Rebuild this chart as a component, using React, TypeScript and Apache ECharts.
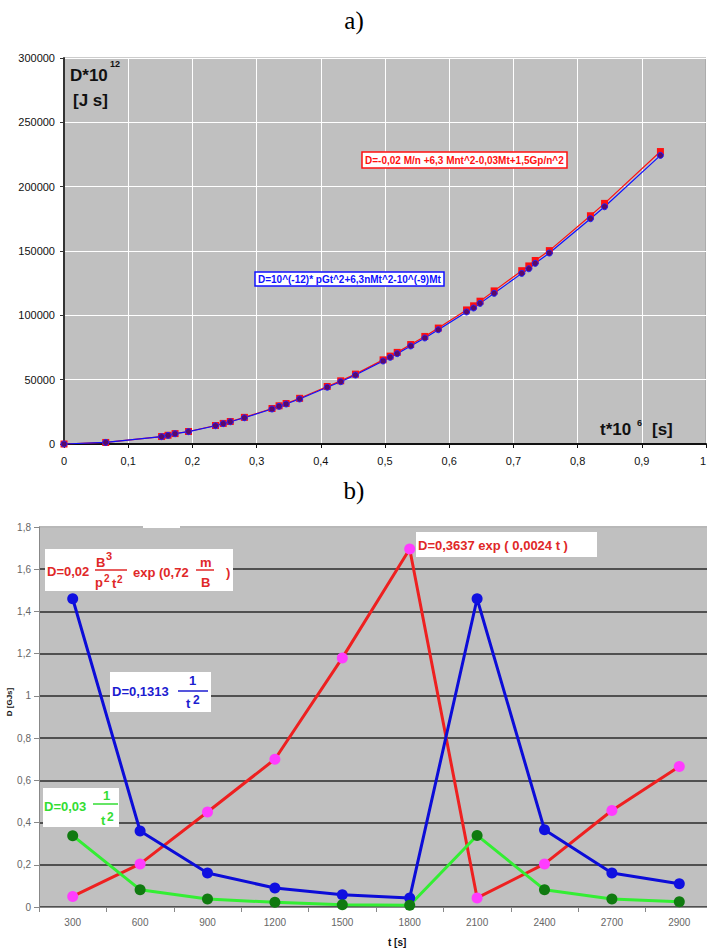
import React, { useEffect, useRef } from "react";
import * as echarts from "echarts";

// ---- Chart a) data ----
const tValues = [0, 0.065, 0.152, 0.162, 0.173, 0.194, 0.236, 0.248, 0.259, 0.281, 0.324, 0.335, 0.346, 0.367, 0.41, 0.431, 0.454, 0.497, 0.508, 0.519, 0.54, 0.562, 0.583, 0.627, 0.638, 0.648, 0.67, 0.713, 0.724, 0.734, 0.756, 0.82, 0.842, 0.929];
const dRedModel = [0, 1200, 5800, 6800, 8100, 9700, 14400, 16000, 17500, 20700, 27600, 29700, 31500, 35500, 44700, 49100, 54300, 65400, 68300, 71200, 77300, 83600, 90100, 104200, 107400, 111000, 119000, 134700, 138400, 142600, 150300, 177400, 187000, 227300];
const dBlueModel = [0, 1200, 5700, 6700, 8000, 9600, 14200, 15800, 17300, 20400, 27200, 29300, 31100, 35000, 44100, 48400, 53600, 64500, 67400, 70200, 76200, 82400, 88800, 102600, 105700, 109300, 117100, 132600, 136200, 140400, 148400, 175100, 184400, 224300];

// ---- Chart b) data ----
const timeCategories = ["300", "600", "900", "1200", "1500", "1800", "2100", "2400", "2700", "2900"];
const dExp = [0.05, 0.204, 0.45, 0.7, 1.18, 1.696, 0.043, 0.204, 0.457, 0.666];
const dBlueInv = [1.46, 0.36, 0.161, 0.09, 0.058, 0.043, 1.46, 0.366, 0.161, 0.11];
const dGreenInv = [0.338, 0.082, 0.038, 0.022, 0.011, 0.008, 0.339, 0.082, 0.038, 0.025];

const SANS = '"Liberation Sans", Arial, sans-serif';
const SERIF = '"Liberation Serif", "Times New Roman", serif';

const RED_T = "#e02828";
const BLUE_T = "#1c1cd0";
const GREEN_T = "#33dd33";

function txt(text: string, x: number, y: number, size: number, fill: string, opts: any = {}) {
  return {
    type: "text",
    x,
    y,
    z: 100,
    rotation: opts.rotation || 0,
    style: {
      text,
      fill,
      fontSize: size,
      fontWeight: opts.weight || "bold",
      fontFamily: opts.family || SANS,
      align: opts.align || "left",
      verticalAlign: "middle",
    },
  };
}
function bar(x1: number, x2: number, y: number, stroke: string) {
  return { type: "line", z: 100, shape: { x1, y1: y, x2, y2: y }, style: { stroke, lineWidth: 1.5 } };
}
function box(x: number, y: number, w: number, h: number, stroke?: string) {
  return {
    type: "rect",
    z: 99,
    shape: { x, y, width: w, height: h },
    style: { fill: "#ffffff", stroke: stroke || "none", lineWidth: stroke ? 1.5 : 0 },
  };
}

export default function App() {
  const ref = useRef<HTMLDivElement>(null);
  useEffect(() => {
    if (!ref.current) return;
    const chart = echarts.init(ref.current, undefined, { renderer: "svg" });
    const comma = (v: number) => String(+(+v).toFixed(1)).replace(".", ",");
    const plain = (v: number) => String(Math.round(+v));
    const bSplitColors = ["#505050", "#505050", "#505050", "#505050", "#505050", "#505050", "#505050", "#505050", "#505050", "#b8b8b8"];
    chart.setOption({
      animation: false,
      backgroundColor: "#ffffff",
      grid: [
        { left: 64, width: 642, top: 58, height: 386, show: true, backgroundColor: "#c0c0c0", borderColor: "#999999", borderWidth: 1, outerBoundsMode: "none", containLabel: false },
        { left: 39, width: 674, top: 527, height: 380, show: true, backgroundColor: "#c0c0c0", borderWidth: 0, outerBoundsMode: "none", containLabel: false },
      ],
      xAxis: [
        {
          gridIndex: 0,
          type: "value",
          min: 0,
          max: 1,
          interval: 0.1,
          axisLine: { show: true, onZero: false, lineStyle: { color: "#111", width: 2 } },
          axisTick: { show: true, length: 4, lineStyle: { color: "#111" } },
          axisLabel: { color: "#111", fontSize: 11, fontFamily: SANS, margin: 11, formatter: comma, alignMaxLabel: "right" },
          splitLine: { show: true, lineStyle: { color: "#ffffff", width: 1 } },
        },
        {
          gridIndex: 1,
          type: "category",
          data: timeCategories,
          boundaryGap: true,
          axisLine: { show: true, lineStyle: { color: "#888888", width: 1 } },
          axisTick: { show: true, length: 5, lineStyle: { color: "#888888" } },
          axisLabel: { color: "#666666", fontSize: 10, fontFamily: SANS, margin: 10 },
          splitLine: { show: false },
        },
      ],
      yAxis: [
        {
          gridIndex: 0,
          type: "value",
          min: 0,
          max: 300000,
          interval: 50000,
          axisLine: { show: true, lineStyle: { color: "#333", width: 2 } },
          axisTick: { show: true, length: 4, lineStyle: { color: "#333" } },
          axisLabel: { color: "#111", fontSize: 11, fontFamily: SANS, margin: 9, formatter: plain },
          splitLine: { show: true, lineStyle: { color: "#ffffff", width: 1 } },
        },
        {
          gridIndex: 1,
          type: "value",
          min: 0,
          max: 1.8,
          interval: 0.2,
          axisLine: { show: true, lineStyle: { color: "#888888", width: 1 } },
          axisTick: { show: true, length: 5, lineStyle: { color: "#888888" } },
          axisLabel: { color: "#666666", fontSize: 10, fontFamily: SANS, margin: 8, formatter: comma },
          splitLine: { show: true, lineStyle: { color: bSplitColors, width: 2 } },
        },
      ],
      series: [
        {
          type: "line",
          xAxisIndex: 0,
          yAxisIndex: 0,
          data: tValues.map((t, i) => [t, dRedModel[i]]),
          symbol: "rect",
          symbolSize: 7,
          lineStyle: { color: "#ff1010", width: 1.2 },
          itemStyle: { color: "#ff1010" },
        },
        {
          type: "line",
          xAxisIndex: 0,
          yAxisIndex: 0,
          data: tValues.map((t, i) => [t, dBlueModel[i]]),
          symbol: "circle",
          symbolSize: 6,
          lineStyle: { color: "#1010ff", width: 1.2 },
          itemStyle: { color: "#5a0a6a", borderColor: "#2020ff", borderWidth: 1 },
        },
        {
          type: "line",
          xAxisIndex: 1,
          yAxisIndex: 1,
          data: dExp,
          symbol: "circle",
          symbolSize: 11,
          lineStyle: { color: "#ee2020", width: 3 },
          itemStyle: { color: "#ff3cff" },
        },
        {
          type: "line",
          xAxisIndex: 1,
          yAxisIndex: 1,
          data: dBlueInv,
          symbol: "circle",
          symbolSize: 11,
          lineStyle: { color: "#0c0cd8", width: 3 },
          itemStyle: { color: "#1010e0" },
        },
        {
          type: "line",
          xAxisIndex: 1,
          yAxisIndex: 1,
          data: dGreenInv,
          symbol: "circle",
          symbolSize: 11,
          lineStyle: { color: "#33ee33", width: 3 },
          itemStyle: { color: "#107a10" },
        },
      ],
      graphic: [
        // titles
        txt("a)", 354, 20, 25, "#000", { weight: "normal", family: SERIF, align: "center" }),
        txt("b)", 354, 490, 25, "#000", { weight: "normal", family: SERIF, align: "center" }),
        // chart a axis names
        txt("D*10", 70, 75, 17, "#111"),
        txt("12", 110, 64, 9, "#111"),
        txt("[J s]", 73, 100, 17, "#111"),
        txt("t*10", 600, 429, 17, "#111"),
        txt("6", 637, 423, 9, "#111"),
        txt("[s]", 652, 429, 17, "#111"),
        // chart a formula boxes
        box(362, 152, 205, 16, "#ff1010"),
        txt("D=-0,02 M/n +6,3 Mnt^2-0,03Mt+1,5Gp/n^2", 365, 160.5, 10, "#ff1010"),
        box(255, 272, 189, 14, "#1010ff"),
        txt("D=10^(-12)* pGt^2+6,3nMt^2-10^(-9)Mt", 258, 279.5, 10, "#1010ff"),
        // chart b white notch at top
        { type: "rect", z: 98, shape: { x: 143, y: 522, width: 37, height: 6 }, style: { fill: "#ffffff" } },
        // chart b axis names
        txt("D [GJs]", 9, 702, 8, "#111", { rotation: Math.PI / 2, align: "center" }),
        txt("t [s]", 388, 942, 10, "#111"),
        // red formula box 1
        box(45, 549, 188, 42),
        txt("D=0,02", 47, 571, 13, RED_T),
        txt("B", 96, 562, 13, RED_T),
        txt("3", 106, 556, 11, RED_T),
        bar(95, 127, 570, RED_T),
        txt("p", 95, 582, 13, RED_T),
        txt("2", 104, 578, 10, RED_T),
        txt("t", 112, 583, 13, RED_T),
        txt("2", 117, 579, 10, RED_T),
        txt("exp (0,72", 133, 572, 13, RED_T),
        txt("m", 200, 562, 13, RED_T),
        bar(196, 214, 570, RED_T),
        txt("B", 201, 582, 13, RED_T),
        txt(")", 226, 572, 13, RED_T),
        // red formula box 2
        box(416, 532, 181, 25),
        txt("D=0,3637 exp ( 0,0024 t )", 418, 545, 13, RED_T),
        // blue formula box
        box(110, 672, 101, 40),
        txt("D=0,1313", 112, 691, 13, BLUE_T),
        txt("1", 189, 680, 13, BLUE_T),
        bar(178, 208, 691, BLUE_T),
        txt("t", 186, 703, 13, BLUE_T),
        txt("2", 193, 700, 12, BLUE_T),
        // green formula box
        box(43, 788, 76, 39),
        txt("D=0,03", 44, 806, 13, GREEN_T),
        txt("1", 103, 795, 13, GREEN_T),
        bar(93, 118, 804, GREEN_T),
        txt("t", 101, 820, 13, GREEN_T),
        txt("2", 107, 817, 12, GREEN_T),
      ],
    });
    return () => chart.dispose();
  }, []);
  return <div ref={ref} style={{ position: "fixed", left: 0, top: 0, width: 707, height: 949 }} />;
}
